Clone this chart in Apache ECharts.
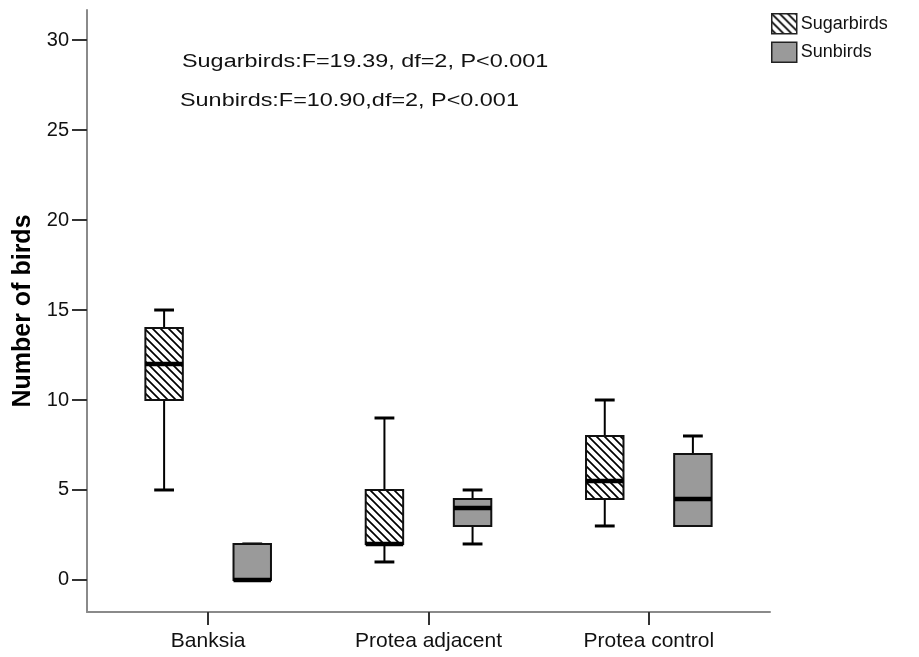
<!DOCTYPE html>
<html>
<head>
<meta charset="utf-8">
<script src="https://cdn.jsdelivr.net/npm/echarts@6/dist/echarts.min.js"></script>
<style>
  html, body { margin: 0; padding: 0; background: #fff; }
  #chart { width: 919px; height: 657px; }
</style>
</head>
<body>
<div id="chart"></div>
<script>
// Habitat categories on the x axis
const categories = ['Banksia', 'Protea adjacent', 'Protea control'];
// Box statistics per category: [min, Q1, median, Q3, max]
const sugarbirds = [
  [5, 10, 12, 14, 15],
  [1, 2, 2, 5, 9],
  [3, 4.5, 5.5, 8, 10]
];
const sunbirds = [
  [0, 0, 0, 2, 2],
  [2, 3, 4, 4.5, 5],
  [3, 3, 4.5, 7, 8]
];
const yTicks = [0, 5, 10, 15, 20, 25, 30];
const seriesNames = ['Sugarbirds', 'Sunbirds'];
const statsLines = [
  'Sugarbirds:F=19.39, df=2, P<0.001',
  'Sunbirds:F=10.90,df=2, P<0.001'
];

// Diagonal hatch fill for the sugarbird boxes
function makeHatch() {
  const s = 8;
  const c = document.createElement('canvas');
  c.width = s; c.height = s;
  const ctx = c.getContext('2d');
  ctx.fillStyle = '#ffffff';
  ctx.fillRect(0, 0, s, s);
  ctx.strokeStyle = '#000000';
  ctx.lineWidth = 1.7;
  ctx.beginPath();
  ctx.moveTo(-2, -2); ctx.lineTo(s + 2, s + 2);
  ctx.moveTo(-2, s - 2); ctx.lineTo(2, s + 2);
  ctx.moveTo(s - 2, -2); ctx.lineTo(s + 2, 2);
  ctx.stroke();
  return { image: c, repeat: 'repeat' };
}
const hatch = makeHatch();
const fills = [hatch, '#9a9a9a'];
const offsets = [-0.2, 0.2];

function toRows(stats) {
  return stats.map((s, i) => [i].concat(s));
}

function boxRenderer(seriesIdx) {
  return function (params, api) {
    const cat = api.value(0);
    const mn = api.value(1), q1 = api.value(2), md = api.value(3), q3 = api.value(4), mx = api.value(5);
    const xc = api.coord([cat + offsets[seriesIdx], 0])[0];
    const halfW = api.size([0.17, 0])[0] / 2;
    const capHalf = api.size([0.09, 0])[0] / 2;
    const py = v => api.coord([0, v])[1];
    const black = { stroke: '#000', lineWidth: 2, fill: null };
    const kids = [];
    if (mx > q3) {
      kids.push({ type: 'line', shape: { x1: xc, y1: py(q3), x2: xc, y2: py(mx) }, style: black });
    }
    kids.push({ type: 'line', shape: { x1: xc - capHalf, y1: py(mx), x2: xc + capHalf, y2: py(mx) }, style: { stroke: '#000', lineWidth: 3 } });
    if (mn < q1) {
      kids.push({ type: 'line', shape: { x1: xc, y1: py(q1), x2: xc, y2: py(mn) }, style: black });
      kids.push({ type: 'line', shape: { x1: xc - capHalf, y1: py(mn), x2: xc + capHalf, y2: py(mn) }, style: { stroke: '#000', lineWidth: 3 } });
    }
    kids.push({
      type: 'rect',
      shape: { x: xc - halfW, y: py(q3), width: halfW * 2, height: py(q1) - py(q3) },
      style: { fill: fills[seriesIdx], stroke: '#111', lineWidth: 2 }
    });
    kids.push({ type: 'line', shape: { x1: xc - halfW, y1: py(md), x2: xc + halfW, y2: py(md) }, style: { stroke: '#000', lineWidth: 4.5 } });
    return { type: 'group', children: kids };
  };
}

const chart = echarts.init(document.getElementById('chart'));
const option = {
  backgroundColor: '#ffffff',
  animation: false,
  grid: { left: 87, right: 149, top: 10, bottom: 45, containLabel: false, outerBoundsMode: 'none' },
  legend: {
    orient: 'vertical',
    left: 771, top: 13,
    padding: 0,
    itemWidth: 25, itemHeight: 20, itemGap: 7,
    textStyle: { fontFamily: 'Liberation Sans', fontSize: 18, color: '#111', padding: [0, 0, 0, -1] },
    data: [
      { name: seriesNames[0], icon: 'rect', itemStyle: { color: hatch, borderColor: '#222', borderWidth: 1.5 } },
      { name: seriesNames[1], icon: 'rect', itemStyle: { color: '#9a9a9a', borderColor: '#222', borderWidth: 1.5 } }
    ]
  },
  xAxis: {
    type: 'value',
    min: -0.55, max: 2.55,
    axisLine: { onZero: false, lineStyle: { color: '#8a8a8a', width: 2 } },
    axisTick: { customValues: [0, 1, 2], length: 13, lineStyle: { color: '#333', width: 2 } },
    axisLabel: {
      customValues: [0, 1, 2],
      formatter: v => categories[Math.round(v)],
      fontFamily: 'Liberation Sans', fontSize: 21, color: '#111', margin: 19
    },
    splitLine: { show: false }
  },
  yAxis: {
    type: 'value',
    min: -1.78, max: 31.67,
    name: 'Number of birds',
    nameLocation: 'middle',
    nameGap: 50,
    nameTextStyle: { fontFamily: 'Liberation Sans', fontWeight: 'bold', fontSize: 25, color: '#000' },
    axisLine: { show: true, onZero: false, lineStyle: { color: '#8a8a8a', width: 2 } },
    axisTick: { show: true, customValues: yTicks, length: 15, lineStyle: { color: '#333', width: 2 } },
    axisLabel: { customValues: yTicks, fontFamily: 'Liberation Sans', fontSize: 20, color: '#111', margin: 18 },
    splitLine: { show: false }
  },
  graphic: statsLines.map((t, i) => ({
    type: 'text',
    x: [182, 180][i], y: [62, 101][i],
    scaleX: 1.3,
    style: { text: t, fontFamily: 'Liberation Sans', fontSize: 18, fill: '#111', verticalAlign: 'middle' }
  })),
  series: [
    {
      name: seriesNames[0], type: 'custom',
      itemStyle: { color: hatch },
      renderItem: boxRenderer(0),
      encode: { x: 0, y: [1, 2, 3, 4, 5] },
      data: toRows(sugarbirds)
    },
    {
      name: seriesNames[1], type: 'custom',
      itemStyle: { color: '#9a9a9a' },
      renderItem: boxRenderer(1),
      encode: { x: 0, y: [1, 2, 3, 4, 5] },
      data: toRows(sunbirds)
    }
  ]
};
chart.setOption(option);
</script>
</body>
</html>
